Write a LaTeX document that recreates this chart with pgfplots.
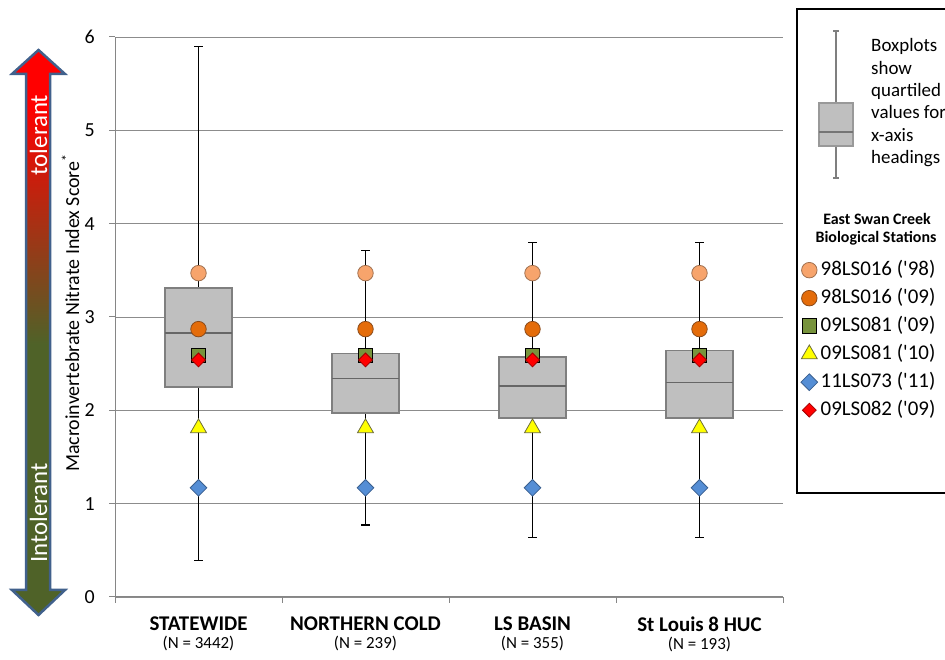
\documentclass[border=0pt]{standalone}
\usepackage{fontspec}
\setmainfont{Carlito}
\usepackage{pgfplots}
\pgfplotsset{compat=1.18}
\usepgfplotslibrary{statistics}

\definecolor{axisgray}{HTML}{868686}
\definecolor{gridgray}{HTML}{8C8C8C}
\definecolor{boxfill}{HTML}{BFBFBF}
\definecolor{boxedge}{HTML}{7F7F7F}
\definecolor{medline}{HTML}{666666}
\definecolor{lorange}{HTML}{F7A46C}
\definecolor{lorangeedge}{HTML}{A0704F}
\definecolor{dorange}{HTML}{E46C0A}
\definecolor{dorangeedge}{HTML}{8A4A1A}
\definecolor{olivegreen}{HTML}{77933C}
\definecolor{triyellow}{HTML}{FFFF00}
\definecolor{triedge}{HTML}{6E6E3C}
\definecolor{dblue}{HTML}{558ED5}
\definecolor{dblueedge}{HTML}{3A5F8F}
\definecolor{dred}{HTML}{FF0000}
\definecolor{dredge}{HTML}{A00000}
\definecolor{arrowred}{HTML}{FF0000}
\definecolor{arrowolive}{HTML}{4F6228}
\definecolor{arrowedge}{HTML}{41618C}

\pgfdeclareverticalshading{arrowshade}{100bp}{color(0bp)=(arrowolive); color(49bp)=(arrowolive); color(70bp)=(arrowred); color(100bp)=(arrowred)}

\pgfplotsset{legmark/.style={legend image code/.code={\draw[##1] plot coordinates {(0bp,0bp)};}}}

\begin{document}
\begin{tikzpicture}[x=1bp,y=1bp]
\useasboundingbox (0,0) rectangle (945,660);

% gradient double arrow
\shadedraw[shading=arrowshade, draw=arrowedge, line width=2.5bp, line join=miter]
  (38.5,610) -- (65,586) -- (50,586) -- (50,70) -- (65,70) -- (38.5,45)
  -- (12,70) -- (26,70) -- (26,586) -- (12,586) -- cycle;
\node[rotate=90, text=white, font=\fontsize{25}{25}\selectfont] at (38.5,525) {tolerant};
\node[rotate=90, text=white, font=\fontsize{25}{25}\selectfont] at (38.5,147) {Intolerant};

\node[rotate=90, anchor=base, inner sep=0pt, font=\fontsize{20}{20}\selectfont] at (79,347)
  {Macroinvertebrate Nitrate Index Score\textsuperscript{*}};

\begin{axis}[
  at={(115bp,63bp)}, anchor=south west,
  width=668bp, height=560bp, scale only axis,
  xmin=-0.5, xmax=3.5, ymin=0, ymax=6,
  axis lines*=left,
  axis line style={axisgray, line width=1bp},
  ytick={0,1,2,3,4,5,6},
  ymajorgrids, grid style={gridgray, line width=0.9bp},
  tick align=outside, major tick length=6bp,
  tick style={axisgray, line width=1bp},
  xtick={-0.5,0.5,1.5,2.5,3.5}, xticklabels={},
  extra x ticks={0,1,2,3},
  extra x tick labels={
    {\textbf{STATEWIDE}\\{\fontsize{17}{18}\selectfont(N = 3442)}},
    {\textbf{NORTHERN COLD}\\{\fontsize{17}{18}\selectfont(N = 239)}},
    {\textbf{LS BASIN}\\{\fontsize{17}{18}\selectfont(N = 355)}},
    {\textbf{St Louis 8 HUC}\\{\fontsize{17}{18}\selectfont(N = 193)}}},
  extra x tick style={major tick length=0pt},
  tick label style={font=\fontsize{20}{24}\selectfont},
  /pgf/number format/assume math mode=true,
  yticklabel style={inner sep=0pt, xshift=-14bp},
  xticklabel style={align=center, inner sep=0pt, yshift=-20bp, font=\fontsize{21}{18}\selectfont},
  boxplot/draw direction=y,
  boxplot/every box/.style={draw=boxedge, fill=boxfill, line width=1.5bp},
  boxplot/every median/.style={draw=medline, line width=1.5bp},
  legend style={at={(axis description cs:1.0266,0.6036)}, anchor=north west, draw=none, fill=none,
    inner sep=0pt, column sep=2bp, row sep=6bp, font=\fontsize{21}{21}\selectfont,
    nodes={inner sep=1bp, text height=15bp, text depth=5bp}},
  legend cell align=left,
  clip=false,
]
\addplot[black, line width=1.3bp, forget plot, boxplot prepared={draw position=0, lower whisker=0.39, lower quartile=2.25, median=2.83, upper quartile=3.31, upper whisker=5.90, box extend=0.4, whisker extend=0.05}] coordinates {};
\addplot[black, line width=1.3bp, forget plot, boxplot prepared={draw position=1, lower whisker=0.77, lower quartile=1.97, median=2.34, upper quartile=2.61, upper whisker=3.71, box extend=0.4, whisker extend=0.05}] coordinates {};
\addplot[black, line width=1.3bp, forget plot, boxplot prepared={draw position=2, lower whisker=0.64, lower quartile=1.92, median=2.26, upper quartile=2.57, upper whisker=3.80, box extend=0.4, whisker extend=0.05}] coordinates {};
\addplot[black, line width=1.3bp, forget plot, boxplot prepared={draw position=3, lower whisker=0.64, lower quartile=1.92, median=2.30, upper quartile=2.64, upper whisker=3.80, box extend=0.4, whisker extend=0.05}] coordinates {};

\addplot[only marks, mark=*, mark size=7.75bp, mark options={fill=lorange, draw=lorangeedge, line width=0.8bp}, legmark]
  coordinates {(0,3.47) (1,3.47) (2,3.47) (3,3.47)};
\addlegendentry{98LS016 (\textquotesingle 98)}
\addplot[only marks, mark=*, mark size=7.75bp, mark options={fill=dorange, draw=dorangeedge, line width=0.8bp}, legmark]
  coordinates {(0,2.87) (1,2.87) (2,2.87) (3,2.87)};
\addlegendentry{98LS016 (\textquotesingle 09)}
\addplot[only marks, mark=square*, mark size=7.3bp, mark options={fill=olivegreen, draw=black, line width=0.8bp}, legmark]
  coordinates {(0,2.59) (1,2.59) (2,2.59) (3,2.59)};
\addlegendentry{09LS081 (\textquotesingle 09)}
\addplot[only marks, mark=triangle*, mark size=9.2bp, mark options={fill=triyellow, draw=triedge, line width=0.8bp}, legmark]
  coordinates {(0,1.81) (1,1.81) (2,1.81) (3,1.81)};
\addlegendentry{09LS081 (\textquotesingle 10)}
\addplot[only marks, mark=square*, mark size=5.9bp, mark options={rotate=45, fill=dblue, draw=dblueedge, line width=0.8bp}, legmark]
  coordinates {(0,1.17) (1,1.17) (2,1.17) (3,1.17)};
\addlegendentry{11LS073 (\textquotesingle 11)}
\addplot[only marks, mark=square*, mark size=4.9bp, mark options={rotate=45, fill=dred, draw=dredge, line width=0.8bp}, legmark]
  coordinates {(0,2.54) (1,2.54) (2,2.54) (3,2.54)};
\addlegendentry{09LS082 (\textquotesingle 09)}
\end{axis}

% legend frame and boxplot key
\draw[line width=2bp] (797,651) rectangle (950,167);
\draw[boxedge, line width=1.2bp] (836,629) -- (836,557) (836,514) -- (836,482)
  (833,629) -- (839,629) (833,482) -- (839,482);
\draw[draw=boxedge!80, fill=boxfill, line width=1.2bp] (819,557) rectangle (853,514);
\draw[medline!90, line width=1.2bp] (819,528) -- (853,528);
\foreach \t/\yy in {Boxplots/608, show/585.7, quartiled/563.4, values for/541.1, x-axis/518.8, headings/496.5}
  \node[anchor=base west, inner sep=0pt, font=\fontsize{19}{19}\selectfont] at (871,\yy) {\t};
\node[anchor=base, inner sep=0pt, font=\bfseries\fontsize{16}{16}\selectfont] at (877,435) {East Swan Creek};
\node[anchor=base, inner sep=0pt, font=\bfseries\fontsize{16}{16}\selectfont] at (876,417) {Biological Stations};
\end{tikzpicture}
\end{document}
